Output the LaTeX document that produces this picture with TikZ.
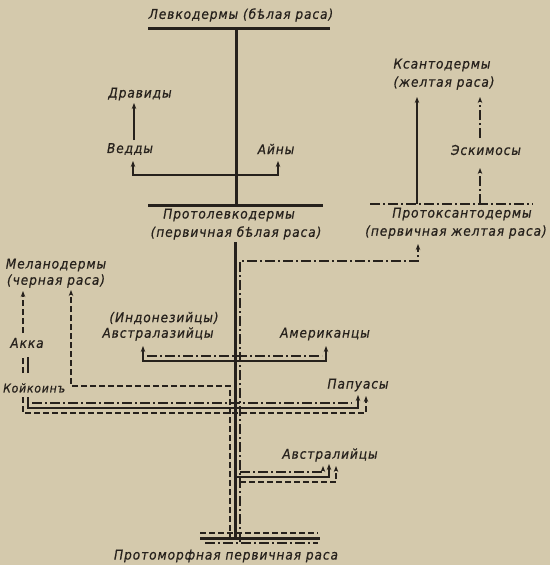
\documentclass[tikz,border=0pt]{standalone}
\usepackage{fontspec}
\newfontfamily\hand[LetterSpace=7,FakeStretch=0.9,FakeBold=0.6]{DejaVu Sans}
\usetikzlibrary{arrows.meta}
\definecolor{paper}{RGB}{212,201,172}
\definecolor{ink}{RGB}{38,33,28}
\begin{document}
\begin{tikzpicture}[x=1pt,y=-1pt,
  lbl/.style={font=\hand\itshape\fontsize{13.5}{15}\selectfont,text=ink,inner sep=0pt},
  solidl/.style={draw=ink,line width=3pt},
  thinsolid/.style={draw=ink,line width=2.2pt},
  dashl/.style={draw=ink,line width=1.4pt,dash pattern=on 6pt off 3pt},
  dotdash/.style={draw=ink,line width=1.4pt,dash pattern=on 10pt off 3pt on 2pt off 3pt},
  arr/.style={-{Stealth[length=6pt,width=4.5pt]}},
  arrs/.style={{Stealth[length=6pt,width=4.5pt]}-{Stealth[length=6pt,width=4.5pt]}}]
\fill[paper] (0,0) rectangle (550,565);
\useasboundingbox (0,0) rectangle (550,565);
% labels
\node[lbl] (leuko) at (241,15) {Левкодермы (бѣлая раса)};
\node[lbl] (drav) at (140,94) {Дравиды};
\node[lbl] (vedd) at (130,149) {Ведды};
\node[lbl] (ainu) at (276,149) {Айны};
\node[lbl] (proleu1) at (229,215) {Протолевкодермы};
\node[lbl] (proleu2) at (236,233) {(первичная бѣлая раса)};
\node[lbl] (xan1) at (442,65) {Ксантодермы};
\node[lbl] (xan2) at (444,83) {(желтая раса)};
\node[lbl] (eski) at (486,150) {Эскимосы};
\node[lbl] (proxan1) at (462,214) {Протоксантодермы};
\node[lbl] (proxan2) at (456,232) {(первичная желтая раса)};
\node[lbl] (mel1) at (56,265) {Меланодермы};
\node[lbl] (mel2) at (56,281) {(черная раса)};
\node[lbl] (akka) at (27,343) {Акка};
\node[lbl,anchor=west,font=\hand\itshape\fontsize{12}{14}\selectfont] (koik) at (3,388) {Койкоинъ};
\node[lbl] (indo) at (164,318) {(Индонезийцы)};
\node[lbl] (australa) at (158,334) {Австралазийцы};
\node[lbl] (amer) at (325,334) {Американцы};
\node[lbl] (papu) at (358,385) {Папуасы};
\node[lbl] (austr) at (330,455) {Австралийцы};
\node[lbl] (proto) at (226,556) {Протоморфная первичная раса};
% white trunk
\draw[solidl] (148,28) -- (330,28);
\draw[solidl] (236,28) -- (236,205);
\draw[solidl] (148,205) -- (323,205);
\draw[thinsolid,arrs] (133,161) -- (133,175) -- (278,175) -- (278,161);
\draw[thinsolid,arr] (134,140) -- (134,103);
\draw[solidl] (235,242) -- (235,540);
% yellow
\draw[dotdash,arr] (240,542) -- (240,261) -- (418,261) -- (418,244);
\draw[dotdash] (370,204) -- (533,204);
\draw[thinsolid,arr] (417,204) -- (417,97);
\draw[dotdash,arr] (480,204) -- (480,168);
\draw[dotdash,arr] (480,138) -- (480,97);
% black
\draw[dashl,arr] (23,333) -- (23,291);
\draw[dashl,arr] (230,540) -- (230,386) -- (71,386) -- (71,290);
% Koikoin - Papua
\draw[dashl] (23,373) -- (23,357);
\draw[thinsolid] (28,373) -- (28,357);
\draw[dashl,arr] (23,397) -- (23,413) -- (366,413) -- (366,396);
\draw[thinsolid,arr] (28,397) -- (28,408) -- (358,408) -- (358,395);
\draw[dotdash] (32,403) -- (352,403);
% Australasians - Americans
\draw[thinsolid,arrs] (143,346) -- (143,361) -- (326,361) -- (326,346);
\draw[dotdash] (147,356) -- (322,356);
% Australians
\draw[dotdash,arr] (240,472) -- (323,472) -- (323,466);
\draw[thinsolid,arr] (235,477) -- (329,477) -- (329,464);
\draw[dashl,arr] (240,482) -- (336,482) -- (336,466);
% base
\draw[dashl] (200,533) -- (318,533);
\draw[solidl] (200,538) -- (320,538);
\draw[dotdash] (205,543) -- (318,543);
\end{tikzpicture}
\end{document}
